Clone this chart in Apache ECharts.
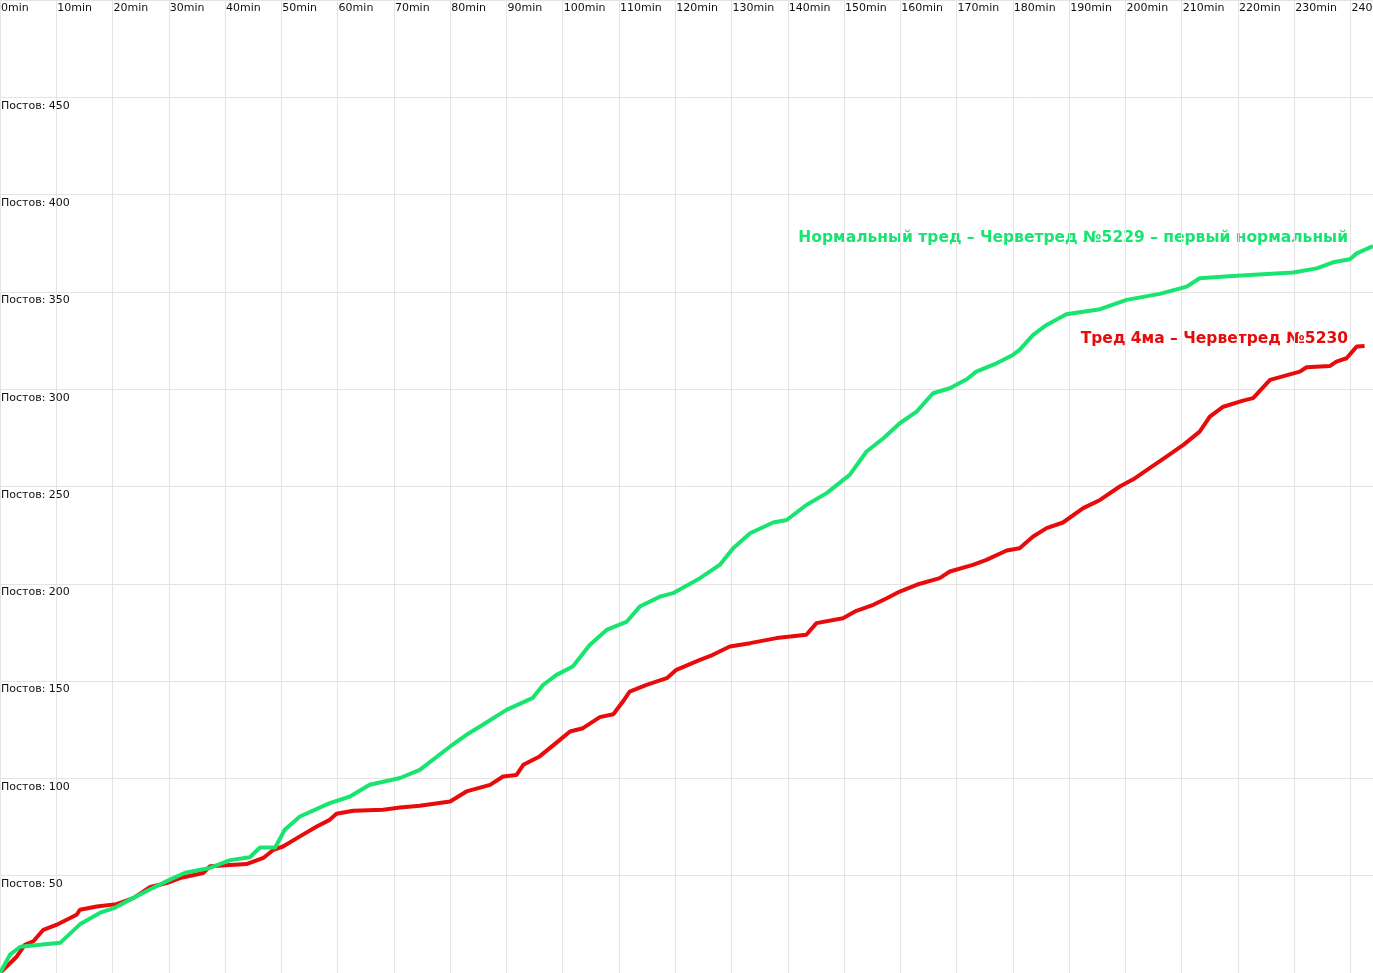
<!DOCTYPE html>
<html>
<head>
<meta charset="utf-8">
<script src="https://cdn.jsdelivr.net/npm/echarts@6/dist/echarts.min.js"></script>
<style>
html,body{margin:0;padding:0;background:#fff;overflow:hidden;}
#chart{width:1373px;height:973px;display:block;}
</style>
</head>
<body>
<div id="chart"></div>
<script>
// Time in minutes, posts count
const greenName = 'Нормальный тред – Черветред №5229 – первый нормальный';
const redName = 'Тред 4ма – Черветред №5230';
const xTickSuffix = 'min';
const yTickPrefix = 'Постов: ';

const greenTimes = [0,1.8,3.6,7.1,10.7,14.2,17.8,20.4,23.1,26.7,30.2,32.9,37.3,40.9,44.4,46.2,48.9,50.6,53.3,58.6,62.2,65.7,71.1,74.6,80.0,82.9,85.3,90.0,94.7,96.5,98.9,101.8,104.8,107.8,111.4,113.7,117.3,119.6,124.4,127.9,130.3,133.3,137.4,139.8,143.3,146.9,151.0,154.0,157.0,159.9,162.9,165.8,168.8,171.8,173.5,177.1,180.0,181.2,183.6,186.0,189.5,195.5,200.2,206.1,210.9,213.2,219.1,229.8,234.0,236.9,239.9,241.1,244];
const greenPosts = [0,9.5,13.5,14.5,15.5,25,31,33.5,37.7,43,48,51.5,54,58,59.5,64.5,64.5,73.6,80.4,87.3,90.7,96.7,100.2,104.4,116.4,122.4,126.7,135.2,141.4,148,153.2,157.5,168.6,176.3,180.6,188.3,193.4,195.2,202.9,209.7,218.3,226,231.5,232.8,240.5,246.6,256,268,274.8,282.5,288.5,297.9,300.5,305.1,309,313.3,317.6,320.2,327.9,333,338.5,341.1,345.9,349,352.7,357,358.2,360,362.1,365.2,366.8,369.8,373.6];

const redTimes = [0,3.0,4.4,5.9,7.7,10.1,13.6,14.2,17.2,20.7,23.7,26.7,29.6,32.0,36.1,37.3,43.8,46.8,48.6,50.3,53.3,56.3,58.6,59.8,62.8,68.1,71.1,74.6,80.0,82.9,87.1,89.4,91.8,93.0,95.9,99.5,101.3,103.6,106.6,109.0,110.7,111.9,114.9,118.5,120.2,124.4,126.7,129.7,133.3,138.0,143.3,145.1,149.8,152.2,155.2,157.6,159.9,162.9,167.0,168.8,172.9,175.3,178.9,181.2,183.6,186.0,188.9,192.5,195.5,199.0,201.4,204.3,207.3,210.3,213.2,215.0,217.4,220.9,222.7,225.7,231.0,232.2,236.3,237.5,239.3,241.1,242.5];
const redPosts = [0,8.5,14.5,16.2,22.2,24.8,29.9,32.5,34.2,35.4,38.5,44.2,46.2,48.8,51.4,54.8,56,59.1,63.3,65,70.2,75.3,78.7,81.8,83.4,83.9,85,85.9,88.1,93.3,96.7,101,101.8,107,111.3,119.8,124.1,125.8,131.5,133,139.5,144.6,148.1,151.5,155.8,160.9,163.5,167.8,169.5,172.1,173.8,179.8,182.3,186.1,189.2,192.6,196,199.5,202.9,206.3,209.7,212.3,217.1,218.3,224.3,228.6,231.5,238.9,243.1,250,253.7,259.4,265.4,271.4,278.2,285.9,291,294.1,295.4,304.8,309,311.3,311.9,314.2,315.9,321.9,322.2];

const GREEN = '#17e56f';
const RED = '#e80b0b';
const FONT = 'DejaVu Sans';

const zip = (a, b) => a.map((t, i) => [t, b[i]]);

const chart = echarts.init(document.getElementById('chart'), null, {width: 1373, height: 973});
chart.setOption({
  animation: false,
  backgroundColor: '#ffffff',
  grid: {left: 0, right: 0, top: 0, bottom: 0, containLabel: false, outerBoundsMode: 'none'},
  xAxis: {
    type: 'value', min: 0, max: 244, interval: 10, position: 'top',
    axisLine: {show: false}, axisTick: {show: false},
    splitLine: {show: true, lineStyle: {color: '#e6e3e3', width: 1}},
    axisLabel: {
      inside: true, margin: 3, align: 'left', verticalAlign: 'top',
      padding: [0, 0, 0, 1],
      color: '#111', fontFamily: FONT, fontSize: 11,
      formatter: v => (v % 10 === 0 ? v + xTickSuffix : '')
    }
  },
  yAxis: {
    type: 'value', min: 0, max: 500, interval: 50,
    axisLine: {show: false}, axisTick: {show: false},
    splitLine: {show: true, lineStyle: {color: '#e6e3e3', width: 1}},
    axisLabel: {
      inside: true, margin: 1, align: 'left', verticalAlign: 'top',
      padding: [3, 0, 0, 0],
      color: '#111', fontFamily: FONT, fontSize: 11,
      formatter: v => (v > 0 && v < 500 ? yTickPrefix + v : '')
    }
  },
  series: [
    {name: redName, type: 'line', data: zip(redTimes, redPosts), showSymbol: false,
     lineStyle: {color: RED, width: 4}, itemStyle: {color: RED}},
    {name: greenName, type: 'line', data: zip(greenTimes, greenPosts), showSymbol: false,
     lineStyle: {color: GREEN, width: 4}, itemStyle: {color: GREEN}}
  ],
  graphic: [
    {type: 'text', right: 25, top: 230,
     style: {text: greenName, fill: GREEN, font: 'bold 15.5px "DejaVu Sans"'}},
    {type: 'text', right: 25, top: 331,
     style: {text: redName, fill: RED, font: 'bold 15.5px "DejaVu Sans"'}}
  ]
});
</script>
</body>
</html>
